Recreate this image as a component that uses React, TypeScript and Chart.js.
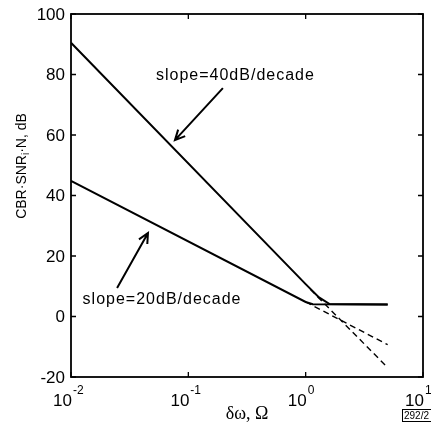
import React, { useEffect, useRef } from "react";
import { Chart, registerables } from "chart.js";

Chart.register(...registerables);

// ---- data ----
const steepX = [0.01, 1.0, 1.3, 1.6, 5];
const steepY = [90.5, 10.7, 6.3, 4.1, 4];
const shallowX = [0.01, 1.0, 1.15, 5];
const shallowY = [44.8, 4.8, 4.05, 4];
const steepDashX = [1.1, 5];
const steepDashY = [8.9, -16.9];
const shallowDashX = [1.0, 5];
const shallowDashY = [4.8, -9.3];

const xTickValues = [0.01, 0.1, 1, 10];
const xTickExponents = ["-2", "-1", "0", "1"];
const yTickValues = [-20, 0, 20, 40, 60, 80, 100];

const label40 = "slope=40dB/decade";
const label20 = "slope=20dB/decade";
const yTitleParts = ["CBR\u00B7SNR", "i", "\u00B7N, dB"];
const xTitle = "\u03B4\u03C9, \u03A9";
const cornerTag = "292/2";

// annotation anchors in data coordinates
const label40At = { x: 0.252, y: 79.8 };
const arrow40 = { fromX: 0.197, fromY: 75.5, toX: 0.0769, toY: 58.3 };
const label20At = { x: 0.0597, y: 5.45 };
const arrow20 = { fromX: 0.0247, fromY: 9.4, toX: 0.0453, toY: 27.6 };

const SANS = "'Liberation Sans', Arial, Helvetica, sans-serif";
const SERIF = "'Liberation Serif', 'Times New Roman', serif";

function pts(xs: number[], ys: number[]) {
  return xs.map((x, i) => ({ x, y: ys[i] }));
}

function drawArrow(ctx: CanvasRenderingContext2D, x1: number, y1: number, x2: number, y2: number) {
  const ang = Math.atan2(y2 - y1, x2 - x1);
  const head = 11;
  ctx.beginPath();
  ctx.moveTo(x1, y1);
  ctx.lineTo(x2, y2);
  ctx.moveTo(x2 - head * Math.cos(ang - 0.45), y2 - head * Math.sin(ang - 0.45));
  ctx.lineTo(x2, y2);
  ctx.lineTo(x2 - head * Math.cos(ang + 0.45), y2 - head * Math.sin(ang + 0.45));
  ctx.stroke();
}

const overlay = {
  id: "overlay",
  afterDraw(chart: any) {
    const ctx: CanvasRenderingContext2D = chart.ctx;
    const { left, right, top, bottom } = chart.chartArea;
    const xs = chart.scales.x;
    const ys = chart.scales.y;
    ctx.save();
    ctx.strokeStyle = "#000";
    ctx.fillStyle = "#000";

    // frame
    ctx.lineWidth = 1.8;
    ctx.strokeRect(left, top, right - left, bottom - top);

    // inner ticks
    ctx.lineWidth = 1.3;
    ctx.beginPath();
    for (const v of yTickValues) {
      const y = ys.getPixelForValue(v);
      ctx.moveTo(left, y);
      ctx.lineTo(left + 5, y);
      ctx.moveTo(right, y);
      ctx.lineTo(right - 5, y);
    }
    for (const v of xTickValues) {
      const x = xs.getPixelForValue(v);
      ctx.moveTo(x, bottom);
      ctx.lineTo(x, bottom - 5);
      ctx.moveTo(x, top);
      ctx.lineTo(x, top + 5);
    }
    ctx.stroke();

    // y tick labels
    ctx.font = `17px ${SANS}`;
    ctx.textAlign = "right";
    ctx.textBaseline = "middle";
    for (const v of yTickValues) {
      ctx.fillText(String(v), left - 6, ys.getPixelForValue(v) + 1);
    }

    // x tick labels 10^n
    ctx.textAlign = "left";
    ctx.textBaseline = "alphabetic";
    xTickValues.forEach((v, i) => {
      const x = xs.getPixelForValue(v);
      ctx.font = `17px ${SANS}`;
      const w1 = ctx.measureText("10").width;
      const start = x - w1 + 1;
      ctx.fillText("10", start, bottom + 29);
      ctx.font = `12px ${SANS}`;
      ctx.fillText(xTickExponents[i], start + w1 + 1, bottom + 17);
    });

    // x title
    ctx.font = `18px ${SERIF}`;
    ctx.textAlign = "center";
    ctx.fillText(xTitle, (left + right) / 2, bottom + 42);

    // y title with subscript
    ctx.save();
    ctx.translate(26, 166);
    ctx.rotate(-Math.PI / 2);
    ctx.textAlign = "left";
    ctx.font = `14px ${SANS}`;
    const wa = ctx.measureText(yTitleParts[0]).width;
    const wc = ctx.measureText(yTitleParts[2]).width;
    ctx.font = `10px ${SANS}`;
    const wb = ctx.measureText(yTitleParts[1]).width;
    let cx = -(wa + wb + wc) / 2;
    ctx.font = `14px ${SANS}`;
    ctx.fillText(yTitleParts[0], cx, 0);
    cx += wa;
    ctx.font = `10px ${SANS}`;
    ctx.fillText(yTitleParts[1], cx, 3);
    cx += wb;
    ctx.font = `14px ${SANS}`;
    ctx.fillText(yTitleParts[2], cx, 0);
    ctx.restore();

    // annotations
    ctx.font = `16px ${SANS}`;
    (ctx as any).letterSpacing = "1px";
    ctx.textAlign = "center";
    ctx.textBaseline = "middle";
    ctx.fillText(label40, xs.getPixelForValue(label40At.x), ys.getPixelForValue(label40At.y));
    ctx.fillText(label20, xs.getPixelForValue(label20At.x), ys.getPixelForValue(label20At.y));
    (ctx as any).letterSpacing = "0px";
    ctx.lineWidth = 2;
    drawArrow(
      ctx,
      xs.getPixelForValue(arrow40.fromX), ys.getPixelForValue(arrow40.fromY),
      xs.getPixelForValue(arrow40.toX), ys.getPixelForValue(arrow40.toY)
    );
    drawArrow(
      ctx,
      xs.getPixelForValue(arrow20.fromX), ys.getPixelForValue(arrow20.fromY),
      xs.getPixelForValue(arrow20.toX), ys.getPixelForValue(arrow20.toY)
    );

    // corner tag
    ctx.lineWidth = 1;
    ctx.strokeRect(402.5, 409.5, 30, 12);
    ctx.font = `10px ${SANS}`;
    ctx.textAlign = "left";
    ctx.textBaseline = "middle";
    ctx.fillText(cornerTag, 404, 416);

    ctx.restore();
  },
};

export default function App() {
  const ref = useRef<HTMLCanvasElement | null>(null);
  useEffect(() => {
    document.body.style.margin = "0";
    const canvas = ref.current!;
    const solid = { borderColor: "#000", borderWidth: 2, pointRadius: 0, showLine: true, tension: 0 };
    const dashed = { ...solid, borderWidth: 1.4, borderDash: [6, 4] };
    const chart = new Chart(canvas, {
      type: "scatter",
      data: {
        datasets: [
          { ...solid, data: pts(steepX, steepY) },
          { ...solid, data: pts(shallowX, shallowY) },
          { ...dashed, data: pts(steepDashX, steepDashY) },
          { ...dashed, data: pts(shallowDashX, shallowDashY) },
        ],
      },
      options: {
        responsive: false,
        animation: false,
        devicePixelRatio: 1,
        layout: { padding: { left: 71, top: 14, right: 8, bottom: 47 } },
        plugins: { legend: { display: false }, tooltip: { enabled: false } },
        scales: {
          x: { type: "logarithmic", min: 0.01, max: 10, display: false },
          y: { type: "linear", min: -20, max: 100, display: false },
        },
      },
      plugins: [overlay],
    } as any);
    return () => chart.destroy();
  }, []);
  return (
    <div style={{ width: 431, height: 424, background: "#fff" }}>
      <canvas ref={ref} width={431} height={424} style={{ display: "block" }} />
    </div>
  );
}
